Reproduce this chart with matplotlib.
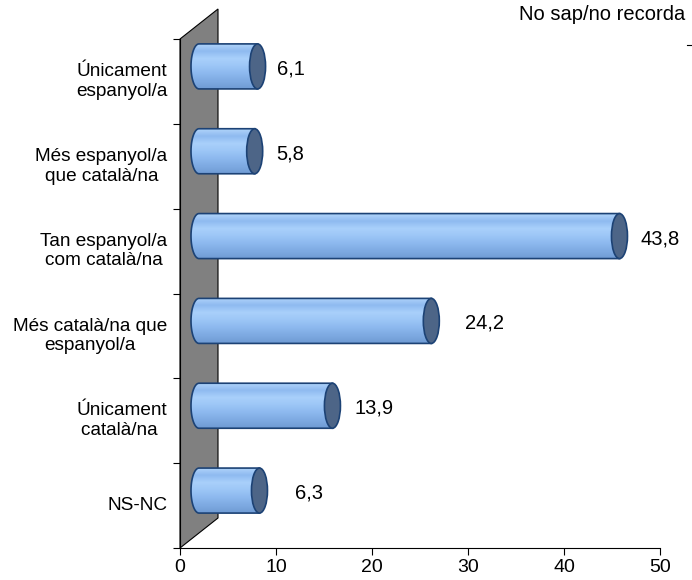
import numpy as np
import matplotlib.pyplot as plt
from matplotlib.patches import Polygon, Ellipse
from matplotlib.colors import LinearSegmentedColormap
from matplotlib.lines import Line2D

plt.rcParams['font.family'] = ['Liberation Sans', 'DejaVu Sans']

categories = ["Únicament\nespanyol/a", "Més espanyol/a\nque català/na", "Tan espanyol/a\ncom català/na",
              "Més català/na que\nespanyol/a", "Únicament\ncatalà/na ", "NS-NC"]
values = [6.1, 5.8, 43.8, 24.2, 13.9, 6.3]
value_labels = ["6,1", "5,8", "43,8", "24,2", "13,9", "6,3"]
label_offset = [5.46, 5.66, 6.2, 7.57, 6.3, 7.14]   # where excel happened to put the numbers

W, H = 692, 580
fig = plt.figure(figsize=(W / 100, H / 100), dpi=100)
ax = fig.add_axes([180 / W, 32 / H, 480 / W, 509 / H])
ax.set_xlim(0, 50)
ax.set_ylim(0, 6)

# 3d look: depth shift of the wall and half of it for the bars
wall_dx, wall_dy = 38 / 9.6, 30 / 84.8
bar_dx, bar_dy = wall_dx / 2, wall_dy / 2
bar_h = 45 / 84.8
cap_w = 16 / 9.6

wall = Polygon([(0, 0), (wall_dx, wall_dy), (wall_dx, 6 + wall_dy), (0, 6)], closed=True,
               facecolor='#808080', edgecolor='black', lw=0.8, clip_on=False, zorder=1)
ax.add_patch(wall)

cmap = LinearSegmentedColormap.from_list('cyl', ['#6f9bd4', '#7eaae2', '#8cb8ee', '#9cc6f6', '#a9d0fb', '#8fbaf0', '#b3d6fb'])
grad = np.linspace(0, 1, 64).reshape(-1, 1)

n = len(values)
for i, v in enumerate(values):
    yc = n - i - 0.5 + bar_dy
    x0 = bar_dx
    x1 = v + bar_dx
    t = np.linspace(np.pi / 2, 3 * np.pi / 2, 40)
    pts = [(x0 + cap_w / 2 * np.cos(a), yc + bar_h / 2 * np.sin(a)) for a in t]
    pts += [(x1, yc - bar_h / 2), (x1, yc + bar_h / 2), pts[0]]
    im = ax.imshow(grad, cmap=cmap, aspect='auto', origin='lower',
                   extent=(x0 - cap_w / 2, x1, yc - bar_h / 2, yc + bar_h / 2), zorder=3)
    edge = Polygon(pts, closed=True, facecolor='none', edgecolor='#1c4275', lw=1.2, zorder=4)
    ax.add_patch(edge)
    im.set_clip_path(edge)
    cap = Ellipse((x1, yc), cap_w, bar_h, facecolor='#4d6587', edgecolor='#1c4275', lw=1.2, zorder=5)
    ax.add_patch(cap)
    ax.text(v + label_offset[i], yc - 0.03, value_labels[i], ha='center', va='center', fontsize=14.5,
            clip_on=False)

ax.set_yticks(range(7))
ax.set_yticklabels([])
for i, c in enumerate(categories):
    ax.text(-1.3, n - i - 0.5, c, ha='right', va='center', multialignment='center', fontsize=13.7)

ax.set_xticks(range(0, 51, 10))
ax.tick_params(axis='both', direction='out', length=5, width=0.8, labelsize=14)
ax.tick_params(axis='x', pad=3)
for s in ['top', 'right']:
    ax.spines[s].set_visible(False)
ax.spines['left'].set_zorder(2)

fig.text(602 / W, 1 - 15 / H, "No sap/no recorda", ha='center', va='center', fontsize=14.5)
fig.add_artist(Line2D([687 / W, 692 / W], [1 - 45 / H, 1 - 45 / H], color='black', lw=0.8))

fig.savefig('out.png', dpi=100)
